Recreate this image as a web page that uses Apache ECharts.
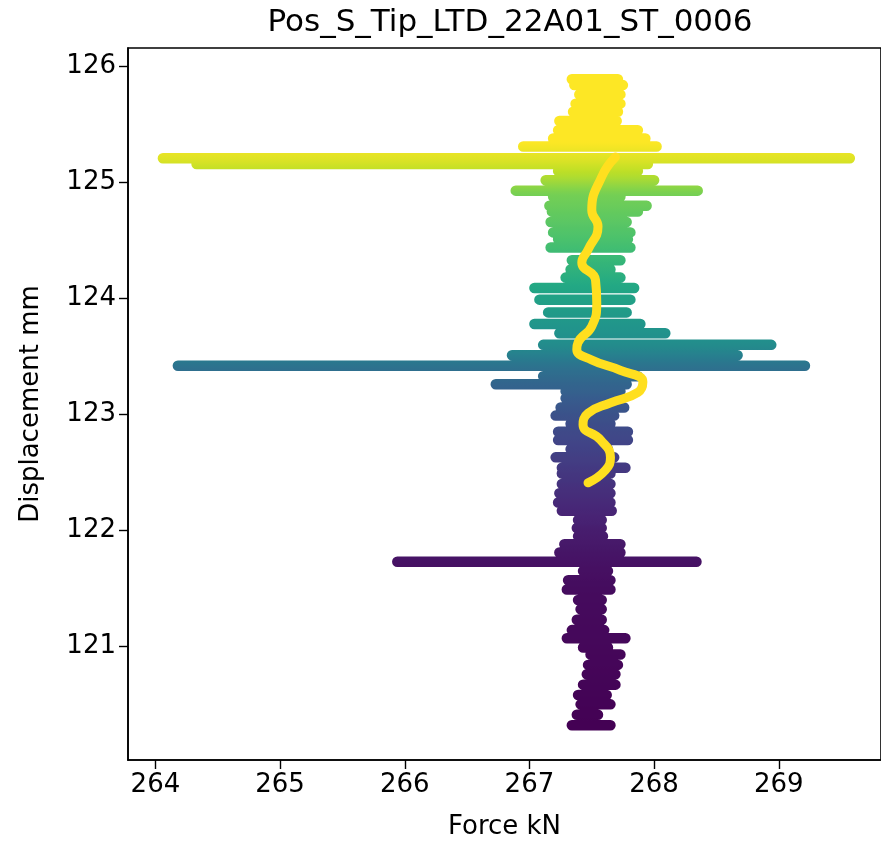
<!DOCTYPE html>
<html>
<head>
<meta charset="utf-8">
<title>Pos_S_Tip_LTD_22A01_ST_0006</title>
<script src="https://cdn.jsdelivr.net/npm/echarts@6/dist/echarts.min.js"></script>
<style>
  html, body { margin: 0; padding: 0; background: #fff; }
  #main { width: 881px; height: 846px; }
</style>
</head>
<body>
<div id="main"></div>
<script>
// force/displacement trace, read off the picture as horizontal sweeps (bottom to top):
// displacement of each sweep, and the lowest / highest force reached in it
var sweepDisp = [
  120.32, 120.41, 120.50, 120.58, 120.67, 120.76, 120.84, 120.93, 120.99, 121.07,
  121.14, 121.23, 121.32, 121.40, 121.49, 121.57, 121.65, 121.73, 121.81, 121.88,
  121.95, 122.02, 122.09, 122.17, 122.24, 122.32, 122.40, 122.49, 122.54, 122.63,
  122.70, 122.78, 122.85, 122.92, 122.99, 123.06, 123.14, 123.20, 123.26, 123.33,
  123.42, 123.51, 123.60, 123.70, 123.78, 123.88, 123.99, 124.09, 124.18, 124.25,
  124.33, 124.44, 124.51, 124.57, 124.66, 124.75, 124.80, 124.88, 124.93, 125.02,
  125.10, 125.16, 125.21, 125.31, 125.38, 125.45, 125.53, 125.61, 125.68, 125.76,
  125.84, 125.89
];
var sweepMin = [
  267.34, 267.38, 267.41, 267.39, 267.43, 267.46, 267.47, 267.49, 267.43, 267.30,
  267.34, 267.38, 267.41, 267.39, 267.30, 267.31, 267.43, 265.94, 267.24, 267.28,
  267.39, 267.38, 267.39, 267.26, 267.23, 267.24, 267.26, 267.26, 267.26, 267.21,
  267.33, 267.23, 267.23, 267.33, 267.21, 267.25, 267.29, 267.29, 266.73, 267.11,
  264.18, 266.86, 267.11, 267.24, 267.04, 267.15, 267.08, 267.04, 267.29, 267.33,
  267.34, 267.17, 267.23, 267.19, 267.17, 267.18, 267.16, 267.19, 266.89, 267.13,
  267.23, 264.33, 264.06, 266.95, 267.19, 267.23, 267.24, 267.35, 267.37, 267.40,
  267.36, 267.34
];
var sweepMax = [
  267.65, 267.55, 267.65, 267.62, 267.69, 267.69, 267.71, 267.73, 267.63, 267.77,
  267.60, 267.58, 267.58, 267.58, 267.65, 267.65, 267.63, 268.34, 267.73, 267.73,
  267.59, 267.58, 267.58, 267.66, 267.65, 267.65, 267.65, 267.65, 267.77, 267.68,
  267.63, 267.79, 267.79, 267.65, 267.68, 267.76, 267.73, 267.73, 267.78, 267.87,
  269.21, 268.67, 268.94, 268.09, 267.89, 267.78, 267.81, 267.84, 267.73, 267.65,
  267.73, 267.81, 267.79, 267.81, 267.78, 267.87, 267.94, 267.73, 268.35, 268.00,
  267.87, 267.95, 269.57, 268.02, 267.93, 267.87, 267.70, 267.71, 267.73, 267.73,
  267.75, 267.71
];

// smoothed trend line (yellow)
var trendForce = [
  267.47, 267.61, 267.65, 267.57, 267.43, 267.47, 267.65, 267.87, 267.91, 267.73,
  267.50, 267.38, 267.39, 267.50, 267.54, 267.53, 267.42, 267.47, 267.55, 267.50,
  267.58, 267.69
];
var trendDisp = [
  122.41, 122.52, 122.63, 122.78, 122.91, 123.01, 123.10, 123.19, 123.28, 123.38,
  123.47, 123.56, 123.62, 123.76, 123.96, 124.16, 124.31, 124.42, 124.62, 124.76,
  125.05, 125.22
];

var xTicks = [264, 265, 266, 267, 268, 269];
var yTicks = [121, 122, 123, 124, 125, 126];

// colour of the trace against displacement (position on viridis)
var colourAtY = [
  [120.3, 0.00], [121.5, 0.03], [121.75, 0.05], [122.0, 0.08], [122.2, 0.11],
  [122.5, 0.16], [122.8, 0.21], [123.0, 0.25], [123.25, 0.32], [123.42, 0.38],
  [123.6, 0.48], [124.0, 0.57], [124.5, 0.71], [124.9, 0.79], [125.05, 0.88],
  [125.2, 0.95], [125.35, 1.00], [125.9, 1.00]
];
var viridis = ['#440154', '#482475', '#414487', '#355f8d', '#2a788e', '#21918c',
  '#22a884', '#44bf70', '#7ad151', '#bddf26', '#fde725'];

function hexRgb(h) {
  return [parseInt(h.substr(1, 2), 16), parseInt(h.substr(3, 2), 16), parseInt(h.substr(5, 2), 16)];
}
function viridisAt(t) {
  t = Math.max(0, Math.min(1, t));
  var p = t * (viridis.length - 1);
  var i = Math.min(Math.floor(p), viridis.length - 2);
  var f = p - i;
  var a = hexRgb(viridis[i]), b = hexRgb(viridis[i + 1]);
  var c = [0, 1, 2].map(function(k) { return Math.round(a[k] + (b[k] - a[k]) * f); });
  return 'rgb(' + c.join(',') + ')';
}
function tAt(y) {
  for (var i = 0; i < colourAtY.length - 1; i++) {
    var a = colourAtY[i], b = colourAtY[i + 1];
    if (y <= b[0]) {
      return a[1] + (b[1] - a[1]) * Math.max(0, (y - a[0]) / (b[0] - a[0]));
    }
  }
  return 1;
}
var cMin = 120.3, cMax = 125.9;
var cols = [];
for (var k = 0; k <= 112; k++) {
  cols.push(viridisAt(tAt(cMin + (cMax - cMin) * k / 112)));
}

// one horizontal stroke per sweep, broken between sweeps
var trace = [];
for (var i = 0; i < sweepDisp.length; i++) {
  trace.push([sweepMin[i], sweepDisp[i]], [sweepMax[i], sweepDisp[i]]);
  trace.push(['-', '-']);
}
var trend = [];
for (var j = 0; j < trendForce.length; j++) {
  trend.push([trendForce[j], trendDisp[j]]);
}

var font = 'DejaVu Sans';
var myChart = echarts.init(document.getElementById('main'));
myChart.setOption({
  animation: false,
  backgroundColor: '#fff',
  title: {
    text: 'Pos_S_Tip_LTD_22A01_ST_0006',
    left: 505,
    textAlign: 'center',
    top: 2,
    textStyle: { fontFamily: font, fontSize: 31, fontWeight: 'normal', color: '#000' }
  },
  grid: {
    left: 128,
    right: -2,
    top: 48,
    bottom: 86,
    show: true,
    borderColor: '#000',
    borderWidth: 1.6
  },
  visualMap: {
    type: 'continuous',
    show: false,
    seriesIndex: 0,
    dimension: 1,
    min: cMin,
    max: cMax,
    inRange: { color: cols }
  },
  xAxis: {
    type: 'value',
    min: 263.78,
    max: 269.82,
    name: 'Force kN',
    nameLocation: 'middle',
    nameGap: 54,
    nameTextStyle: { fontFamily: font, fontSize: 26, color: '#000' },
    axisLine: { show: true, onZero: false, lineStyle: { color: '#000', width: 1.6 } },
    axisTick: { show: true, length: 9, customValues: xTicks, lineStyle: { color: '#000', width: 1.4 } },
    axisLabel: { customValues: xTicks, color: '#000', fontFamily: font, fontSize: 26, margin: 12 },
    splitLine: { show: false }
  },
  yAxis: {
    type: 'value',
    min: 120.02,
    max: 126.16,
    name: 'Displacement mm',
    nameLocation: 'middle',
    nameGap: 84,
    nameTextStyle: { fontFamily: font, fontSize: 26, color: '#000' },
    axisLine: { show: true, onZero: false, lineStyle: { color: '#000', width: 1.6 } },
    axisTick: { show: true, length: 9, customValues: yTicks, lineStyle: { color: '#000', width: 1.4 } },
    axisLabel: { customValues: yTicks, color: '#000', fontFamily: font, fontSize: 26, margin: 12 },
    splitLine: { show: false }
  },
  series: [{
    name: 'trace',
    type: 'line',
    data: trace,
    showSymbol: false,
    connectNulls: false,
    z: 2,
    lineStyle: { width: 10.5, cap: 'round', join: 'round' }
  }, {
    name: 'trend',
    type: 'line',
    data: trend,
    smooth: 0.5,
    showSymbol: false,
    z: 3,
    lineStyle: { width: 9, color: '#FFDF1F', cap: 'round' }
  }]
});
</script>
</body>
</html>
